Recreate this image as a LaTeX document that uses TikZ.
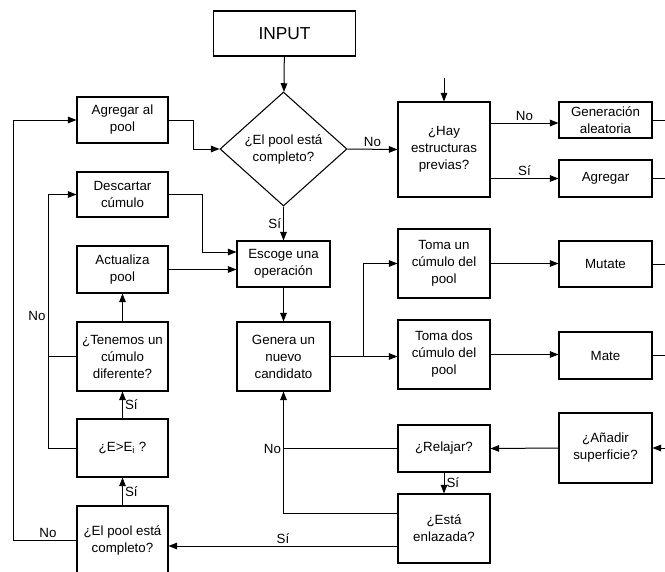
\documentclass[tikz,border=0pt]{standalone}
\usepackage{fontspec}
\setmainfont{Liberation Sans}
\usepackage{tikz}
\usetikzlibrary{positioning,
                arrows.meta,                % arrow tips
                calc,                       % shifted anchors
                shapes.geometric}           % diamond

\tikzset{
  >={Triangle[length=6.5pt,width=5pt]},
  box/.style={draw, align=center, inner sep=1pt, line width=0.8pt,
              font=\fontsize{10}{12.75}\selectfont},
  tag/.style={inner sep=1.5pt, font=\fontsize{10}{12}\selectfont},
}

\begin{document}
\begin{tikzpicture}[x=0.75pt, y=-0.75pt, line width=0.75pt]
      \useasboundingbox (0,0) rectangle (665,572);
      \clip (0,0) rectangle (665,572);

      % central column
      \node[box, minimum width=107pt, minimum height=33.75pt, font=\fontsize{13}{15}\selectfont] (input) at (284.5,33.5) {INPUT};
      \node[box, diamond, minimum width=95.25pt, minimum height=85.5pt, inner sep=0pt] (full) at (283.5,149) {¿El pool está\\completo?};
      \node[box, minimum width=69.75pt, minimum height=34.5pt] (choose) at (283.5,264) {Escoge una\\operación};
      \node[box, minimum width=69.75pt, minimum height=51.75pt] (newcand) at (283.5,356.5) {Genera un\\nuevo\\candidato};

      % left column
      \node[box, minimum width=68.25pt, minimum height=34.5pt] (addpool) at (122.5,120) {Agregar al\\pool};
      \node[box, minimum width=68.25pt, minimum height=33.75pt] (discard) at (122.5,194.5) {Descartar\\cúmulo};
      \node[box, minimum width=68.25pt, minimum height=35.25pt] (update) at (122.5,269.5) {Actualiza\\pool};
      \node[box, minimum width=68.25pt, minimum height=51.75pt] (differ) at (122.5,356.5) {¿Tenemos un\\cúmulo\\diferente?};
      \node[box, minimum width=68.25pt, minimum height=43.5pt] (lower) at (122.5,448) {¿E>E\textsubscript{i} ?};
      \node[box, minimum width=68.25pt, minimum height=51pt] (fullagain) at (122.5,540) {¿El pool está\\completo?};

      % second column
      \node[box, minimum width=69pt, minimum height=71.25pt] (prev) at (444,149.5) {¿Hay\\estructuras\\previas?};
      \node[box, minimum width=69pt, minimum height=51.75pt] (takeone) at (444,263.5) {Toma un\\cúmulo del\\pool};
      \node[box, minimum width=69pt, minimum height=51.75pt] (taketwo) at (444,354.5) {Toma dos\\cúmulo del\\pool};
      \node[box, minimum width=69pt, minimum height=35.25pt] (relax) at (444,448.5) {¿Relajar?};
      \node[box, minimum width=69pt, minimum height=51.75pt] (bonded) at (444,528.5) {¿Está\\enlazada?};

      % right column
      \node[box, minimum width=69.75pt, minimum height=27pt] (random) at (605.5,120) {Generación\\aleatoria};
      \node[box, minimum width=69.75pt, minimum height=27.75pt] (append) at (605.5,178.5) {Agregar};
      \node[box, minimum width=69.75pt, minimum height=34.5pt] (mutate) at (605.5,264) {Mutate};
      \node[box, minimum width=69.75pt, minimum height=35.25pt] (mate) at (605.5,355.5) {Mate};
      \node[box, minimum width=69.75pt, minimum height=52.5pt] (surface) at (605.5,448) {¿Añadir\\superficie?};

      % rails and loose ends
      \coordinate (outer) at (13,0);
      \coordinate (inner) at (48,0);
      \coordinate (split) at (363,356.5);
      \coordinate (rim) at (670,0);
      \coordinate (feed) at (444,78);

      % main flow
      \draw[->] (input) -- (full);
      \draw[->] (full.east) -- (prev.west) node[tag, midway, above] (no1) {No};
      \draw[->] (full.south) -- (choose.north) node[tag, midway, left] (si1) {Sí};
      \draw[->] (choose.south) -- (newcand.north);
      \draw[->] (addpool.east) -- ++(25,0) |- (full.west);
      \draw[->] (discard.east) -- ++(34,0) |- ($(choose.west)+(0,-12)$);
      \draw[->] (update.east) -- (update.east -| choose.west);

      % operations
      \draw (newcand.east) -- (split);
      \draw[->] (split) |- (takeone.west);
      \draw[->] (split) -- (split -| taketwo.west);
      \draw[->] (takeone.east) -- (takeone.east -| mutate.west);
      \draw[->] (taketwo.east) -- (taketwo.east -| mate.west);
      \draw (mutate.east) -- (mutate.east -| rim);
      \draw (mate.east) -- (mate.east -| rim);

      % previous structures
      \draw[->] (feed) -- (prev.north);
      \draw[->] ($(prev.east |- random.west)+(0,3)$) -- ($(random.west)+(0,3)$) node[tag, midway, above] (no2) {No};
      \draw[->] (prev.east |- append.west) -- (append.west) node[tag, midway, above] (si2) {Sí};
      \draw (random.east) -- (random.east -| rim);
      \draw (append.east) -- (append.east -| rim);

      % relaxation
      \draw[->] (surface.east -| rim) -- (surface.east);
      \draw[->] (surface.west) -- (relax.east);
      \draw[->] (relax.south) -- (bonded.north) node[tag, midway, right] (si3) {Sí};
      \draw[->] (relax.west) -| (newcand.south) node[tag, pos=0.5, left] (no3) {No};
      \draw ($(bonded.west)+(0,-15.5)$) -| (newcand.south |- relax.west);
      \draw[->] ($(bonded.west)+(0,17.5)$) -- ($(fullagain.east)+(0,6)$) node[tag, midway, above] (si4) {Sí};

      % left loop
      \draw[->] (fullagain.north) -- (lower.south) node[tag, midway, right] (si5) {Sí};
      \draw[->] (lower.north) -- (differ.south) node[tag, midway, right] (si6) {Sí};
      \draw[->] (differ.north) -- (update.south);
      \draw[->] (fullagain.west) -- (fullagain.west -| outer) node[tag, pos=0.45, above] (no4) {No} |- (addpool.west);
      \draw[->] (lower.west) -- (lower.west -| inner) |- (discard.west) node[tag, pos=0.26, left] (no5) {No};
      \draw (differ.west) -- (differ.west -| inner);
\end{tikzpicture}
\end{document}
